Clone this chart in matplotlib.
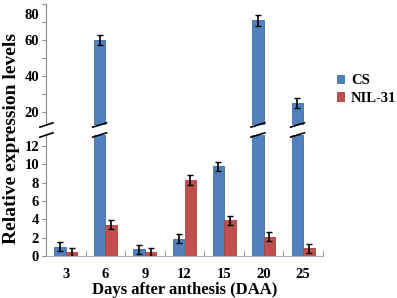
import matplotlib
matplotlib.use("Agg")
import matplotlib.pyplot as plt
import matplotlib.transforms as mtransforms
import numpy as np

days = ["3", "6", "9", "12", "15", "20", "25"]
cs_vals = [1.0, 60, 0.75, 1.9, 9.8, 71, 25]
cs_err = [0.5, 3, 0.5, 0.5, 0.5, 3, 3]
nil_vals = [0.45, 3.4, 0.4, 8.3, 3.9, 2.1, 0.85]
nil_err = [0.45, 0.5, 0.45, 0.5, 0.5, 0.5, 0.5]
series_names = ["CS", "NIL-31"]
upper_ticks = [20, 30, 40, 50, 60, 70, 80]
lower_ticks = [0, 2, 4, 6, 8, 10, 12]

plt.rcParams['font.family'] = ['Liberation Serif', 'DejaVu Serif']
plt.rcParams['font.weight'] = 'bold'

W, H = 397, 298
fig = plt.figure(figsize=(W / 100, H / 100), dpi=100)
left, right = 46 / W, 323 / W
ax_up = fig.add_axes([left, 1 - 125 / H, right - left, 121 / H])
ax_lo = fig.add_axes([left, 1 - 256 / H, right - left, 121 / H])

blue, blue_e = "#4F81BD", "#3F6EA6"
red, red_e = "#C0504D", "#A64440"
x = np.arange(len(days))
bw = 0.29
spine_col = "#8c8c8c"

for ax in (ax_up, ax_lo):
    ax.bar(x - bw / 2, cs_vals, bw, color=blue, edgecolor=blue_e, linewidth=0.6, label=series_names[0])
    ax.bar(x + bw / 2, nil_vals, bw, color=red, edgecolor=red_e, linewidth=0.6, label=series_names[1])
    ax.errorbar(x - bw / 2, cs_vals, yerr=cs_err, fmt='none', ecolor='black', elinewidth=1.2, capsize=2, capthick=1)
    ax.errorbar(x + bw / 2, nil_vals, yerr=nil_err, fmt='none', ecolor='black', elinewidth=1.2, capsize=2, capthick=1)
    ax.set_xlim(-0.5, len(days) - 0.5)
    for s in ("top", "right"):
        ax.spines[s].set_visible(False)
    ax.spines["left"].set_color(spine_col)
    ax.tick_params(axis='y', direction='out', length=3, color=spine_col, labelsize=10.5, pad=2)

ax_up.set_ylim(12.8, 80)
ax_up.spines["bottom"].set_visible(False)
ax_up.set_xticks([])
ax_up.set_yticks(upper_ticks)
ax_up.set_yticklabels([str(t) if t % 20 == 0 else "" for t in upper_ticks])
# shift the "80" label down slightly as in reference
lab = ax_up.get_yticklabels()[-1]
lab.set_transform(lab.get_transform() + mtransforms.ScaledTranslation(0, -10 / 100, fig.dpi_scale_trans))

ax_lo.set_ylim(0, 13.2)
ax_lo.set_yticks(lower_ticks)
ax_lo.spines["bottom"].set_color("#a9b4c0")
ax_lo.set_xticks(x)
ax_lo.set_xticklabels(days)
ax_lo.set_xticks(np.arange(-0.5, len(days), 1.0)[1:], minor=True)
ax_lo.tick_params(axis='x', which='major', length=0, labelsize=10.5, pad=9)
ax_lo.tick_params(axis='x', which='minor', direction='in', length=4, color=spine_col)
ax_lo.set_xlabel("Days after anthesis (DAA)", fontsize=12, fontweight='bold', labelpad=0)

fig.text(12 / W, 1 - 139 / H, "Relative expression levels", rotation=90, ha='center', va='center',
         fontsize=14, fontweight='bold')

# break marks
def brk(ax, x0, x1, yb, dy, tr):
    ax.plot([x0, x1], [yb - dy, yb + dy], color='black', lw=1.2, transform=tr, clip_on=False, zorder=5)

tr_up_ax = ax_up.transAxes
tr_lo_ax = ax_lo.transAxes
brk(ax_up, -0.022, 0.025, 0.0, 0.018, tr_up_ax)
brk(ax_lo, -0.022, 0.025, 1.0, 0.018, tr_lo_ax)
tr_up = mtransforms.blended_transform_factory(ax_up.transData, ax_up.transAxes)
tr_lo = mtransforms.blended_transform_factory(ax_lo.transData, ax_lo.transAxes)
for i, v in enumerate(cs_vals):
    if v > 13.2:
        xc = x[i] - bw / 2
        brk(ax_up, xc - bw / 2 - 0.03, xc + bw / 2 + 0.03, 0.0, 0.018, tr_up)
        brk(ax_lo, xc - bw / 2 - 0.03, xc + bw / 2 + 0.03, 1.0, 0.018, tr_lo)

handles, labels = ax_lo.get_legend_handles_labels()
fig.legend(handles, labels, loc='center left', bbox_to_anchor=(337 / W, 1 - 89.5 / H), frameon=False,
           borderaxespad=0, borderpad=0,
           handlelength=0.48, handleheight=0.48, handletextpad=0.48, labelspacing=0.3,
           prop={'weight': 'bold', 'size': 10.5})

fig.savefig("out.png", dpi=100)
